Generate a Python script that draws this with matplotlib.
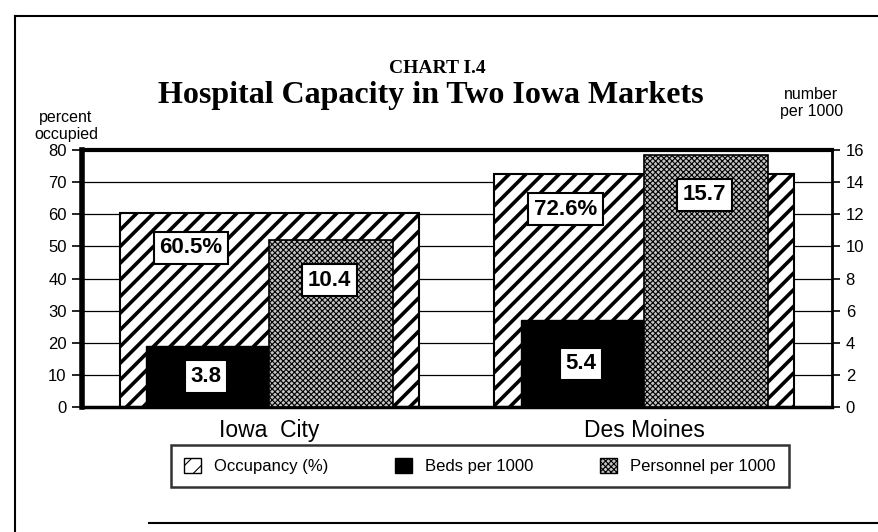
import numpy as np
import matplotlib
matplotlib.use("Agg")
import matplotlib.pyplot as plt
from matplotlib.patches import Patch
from matplotlib.lines import Line2D

markets = ["Iowa  City", "Des Moines"]
occupancy = [60.5, 72.6]        # percent, left axis
beds = [3.8, 5.4]               # per 1000, right axis
personnel = [10.4, 15.7]        # per 1000, right axis
occ_labels = ["60.5%", "72.6%"]
left_ticks = list(range(0, 81, 10))
right_ticks = list(range(0, 17, 2))

plt.rcParams["font.family"] = ["Liberation Sans", "DejaVu Sans"]
serif = ["Liberation Serif", "DejaVu Serif"]

fig = plt.figure(figsize=(8.79, 5.32), dpi=100)
ax = fig.add_axes([0.0933, 0.235, 0.853, 0.483])
ax2 = ax.twinx()

x = np.arange(len(markets))
scale = 80 / 16  # right axis -> left axis units
gray = "#c4c4c4"

# occupancy bars, diagonal hatch
plt.rcParams["hatch.linewidth"] = 2.6
ax.bar(x, occupancy, width=0.8, facecolor="white", edgecolor="black",
       hatch="//", linewidth=1.5, zorder=2)

# beds: solid black
ax.bar(x - 0.33, np.array(beds) * scale, width=0.33, align="edge",
       color="black", edgecolor="black", zorder=3)

# personnel: dense cross-hatch
plt.rcParams["hatch.linewidth"] = 0.8
ax.bar(x, np.array(personnel) * scale, width=0.33, align="edge", facecolor=gray,
       edgecolor="black", hatch="xxxxxx", linewidth=1.2, zorder=3)

box = dict(boxstyle="square,pad=0.25", facecolor="white", edgecolor="black", linewidth=1.5)
tkw = dict(ha="center", va="center", fontsize=16, fontweight="bold", bbox=box, zorder=5)
for i in range(len(markets)):
    ax.text(x[i] - 0.21, occupancy[i] - 11, occ_labels[i], **tkw)
    ax.text(x[i] - 0.17, beds[i] * scale / 2, f"{beds[i]:.1f}", **tkw)
    ax.text(x[i] + 0.16, personnel[i] * scale - 12.5, f"{personnel[i]:.1f}", **tkw)

ax.set_xlim(-0.5, 1.5)
ax.set_ylim(0, 80)
ax.set_yticks(left_ticks)
ax2.set_ylim(0, 16)
ax2.set_yticks(right_ticks)
ax.set_xticks(x)
ax.set_xticklabels(markets, fontsize=16.5)
ax.tick_params(axis="x", length=0, pad=9)
ax.tick_params(axis="y", length=7, width=1.2, labelsize=12, direction="out", pad=4)
ax2.tick_params(axis="y", length=6, width=1.2, labelsize=12, direction="out", pad=4)
ax.grid(axis="y", color="black", linewidth=0.9, zorder=0)
ax.set_axisbelow(True)

ax.spines["left"].set_linewidth(4)
ax.spines["bottom"].set_linewidth(2.5)
ax.spines["top"].set_linewidth(3)
ax.spines["right"].set_linewidth(2)
for s in ax2.spines.values():
    s.set_visible(False)

fig.text(0.075, 0.763, "percent\noccupied", fontsize=11.5, ha="center", va="center", linespacing=1.15)
fig.text(0.923, 0.806, "number\nper 1000", fontsize=11.5, ha="center", va="center", linespacing=1.15)

fig.text(0.497, 0.872, "CHART I.4", family=serif, fontsize=14,
         fontweight="bold", ha="center", va="center")
fig.text(0.49, 0.821, "Hospital Capacity in Two Iowa Markets", family=serif,
         fontsize=23, fontweight="bold", ha="center", va="center")

handles = [
    Patch(facecolor="white", edgecolor="black", hatch="//", label="Occupancy (%)"),
    Patch(facecolor="black", edgecolor="black", label="Beds per 1000"),
    Patch(facecolor=gray, edgecolor="black", hatch="xxxxxx", label="Personnel per 1000"),
]
leg = fig.legend(handles=handles, loc="center", bbox_to_anchor=(0.546, 0.124), ncol=3,
                 fontsize=12, frameon=True, fancybox=False, edgecolor="black",
                 handlelength=1.0, handleheight=1.0, columnspacing=4.0,
                 borderpad=0.8, handletextpad=0.8)
leg.get_frame().set_linewidth(1.8)

# outer page frame
fig.add_artist(Line2D([0.017, 0.017], [0.0, 0.97], color="black", linewidth=1.5))
fig.add_artist(Line2D([0.017, 1.0], [0.97, 0.97], color="black", linewidth=1.5))
fig.add_artist(Line2D([0.17, 1.0], [0.017, 0.017], color="black", linewidth=1.5))

fig.savefig("out.png", dpi=100)
